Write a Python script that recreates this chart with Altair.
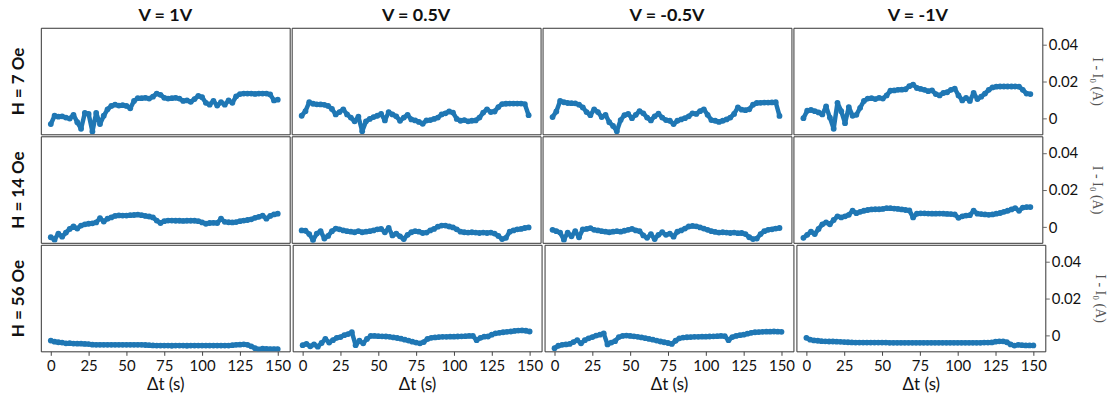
import altair as alt
import pandas as pd

# Sample times (s), shared by every panel
TIME = [0, 2.5, 5, 7.5, 10, 12.5, 15, 17.5, 20, 22.5,
        25, 27.5, 30, 32.5, 35, 37.5, 40, 42.5, 45, 47.5,
        50, 52.5, 55, 57.5, 60, 62.5, 65, 67.5, 70, 72.5,
        75, 77.5, 80, 82.5, 85, 87.5, 90, 92.5, 95, 97.5,
        100, 102.5, 105, 107.5, 110, 112.5, 115, 117.5, 120, 122.5,
        125, 127.5, 130, 132.5, 135, 137.5, 140, 142.5, 145, 147.5,
        150]

V_LABELS = ["V = 1V", "V = 0.5V", "V = -0.5V", "V = -1V"]
H_LABELS = ["H = 7 Oe", "H = 14 Oe", "H = 56 Oe"]

X_TICKS = [0, 25, 50, 75, 100, 125, 150]
Y_TICKS = [0, 0.02, 0.04]

# I - I0 (A) for each field / bias combination
H7_V1 = [-0.003, 0.0015, 0.001, 0.0012, 0.0005, 0.0, 0.002, -0.002, -0.0055, 0.003,
         0.0025, -0.007, 0.003, -0.003, 0.0015, 0.005, 0.0068, 0.0075, 0.007, 0.0072,
         0.0068, 0.0055, 0.0095, 0.011, 0.011, 0.0112, 0.0108, 0.0118, 0.0135, 0.0128,
         0.0112, 0.0108, 0.011, 0.0112, 0.0108, 0.0095, 0.0098, 0.009, 0.0105, 0.0122,
         0.0115, 0.0085, 0.0075, 0.0095, 0.007, 0.0088, 0.0075, 0.0098, 0.0085, 0.012,
         0.0132, 0.0135, 0.0135, 0.0135, 0.0133, 0.0135, 0.0135, 0.0135, 0.013, 0.0098,
         0.0102]
H7_V05 = [0.0015, 0.004, 0.0088, 0.008, 0.0077, 0.0076, 0.0074, 0.0068, 0.0052, 0.0022,
          0.0035, 0.005, 0.0022, 0.0005, -0.0015, 0.001, -0.0068, -0.0015, -0.0002, 0.0008,
          0.0015, 0.0025, -0.001, 0.0035, 0.0022, 0.0012, -0.0012, 0.0005, 0.002, -0.0005,
          -0.001, -0.0018, -0.0028, -0.001, -0.0008, -0.0002, 0.0005, 0.0022, 0.0028, 0.0038,
          0.0032, -0.0002, -0.0012, -0.0008, -0.0015, -0.0012, -0.001, 0.0005, 0.0032, 0.005,
          0.0035, 0.0038, 0.0062, 0.0078, 0.008, 0.0081, 0.0081, 0.0081, 0.0081, 0.0078,
          0.0018]
H7_VM05 = [0.0008, 0.0038, 0.0095, 0.0088, 0.0084, 0.0083, 0.0082, 0.0075, 0.006, 0.0035,
           0.0018, 0.005, 0.0035, 0.0008, 0.002, -0.002, -0.004, -0.0068, -0.0008, 0.0018,
           0.0025, 0.0002, 0.002, 0.004, 0.0028, 0.0005, -0.001, 0.0012, 0.0026, 0.0005,
           -0.0008, -0.0012, -0.003, -0.0012, -0.0005, 0.0002, 0.0012, 0.0028, 0.0025, 0.004,
           0.005, 0.002, -0.0008, -0.0012, -0.0018, -0.0012, -0.0005, 0.0005, 0.0025, 0.006,
           0.0048, 0.0045, 0.005, 0.0075, 0.0084, 0.0085, 0.0086, 0.0086, 0.0087, 0.0088,
           0.0014]
H7_VM1 = [0.0002, 0.0042, 0.0046, 0.004, 0.0033, 0.0022, 0.0065, 0.0005, -0.0055, 0.0085,
          0.004, -0.0025, 0.0062, 0.0015, 0.002, 0.0058, 0.0095, 0.0108, 0.011, 0.0105,
          0.0112, 0.0108, 0.0125, 0.015, 0.0152, 0.0155, 0.0156, 0.0158, 0.0175, 0.0183,
          0.0165, 0.016, 0.0155, 0.0148, 0.0152, 0.0132, 0.0125, 0.0138, 0.0142, 0.0155,
          0.0162, 0.0125, 0.0098, 0.0112, 0.0095, 0.0138, 0.0105, 0.0118, 0.0135, 0.0155,
          0.0168, 0.0172, 0.0173, 0.0173, 0.0173, 0.0173, 0.0173, 0.0172, 0.0155, 0.0135,
          0.0132]

H14_V1 = [-0.0055, -0.0068, -0.0035, -0.0052, -0.003, -0.001, 0.0003, -0.0008, 0.0008, 0.0015,
          0.0018, 0.002, 0.0025, 0.0048, 0.003, 0.0045, 0.0052, 0.006, 0.0063, 0.0062,
          0.0062, 0.0064, 0.0065, 0.0067, 0.0064, 0.006, 0.0057, 0.0052, 0.0035, 0.0022,
          0.0032, 0.0035, 0.0035, 0.0034, 0.0034, 0.0033, 0.0034, 0.0034, 0.0034, 0.0032,
          0.0025, 0.0018, 0.0022, 0.0023, 0.0022, 0.0045, 0.0028, 0.0026, 0.0025, 0.0027,
          0.0032, 0.0035, 0.0038, 0.0042, 0.005, 0.0055, 0.0062, 0.0045, 0.006, 0.0068,
          0.0072]
H14_V05 = [-0.0018, -0.002, -0.0038, -0.007, -0.0035, -0.0022, -0.0062, -0.0048, -0.0022, -0.0008,
           -0.0012, -0.0018, -0.0022, -0.0025, -0.0028, -0.0022, -0.0028, -0.0025, -0.0022, -0.0018,
           -0.0012, -0.001, -0.0028, -0.0005, -0.0045, -0.0035, -0.005, -0.0065, -0.0042, -0.0028,
           -0.0022, -0.0025, -0.0032, -0.003, -0.0018, -0.001, 0.0002, 0.0008, 0.0008, 0.0003,
           -0.0002, -0.0012, -0.0025, -0.0028, -0.003, -0.0028, -0.003, -0.0032, -0.003, -0.0032,
           -0.003, -0.0035, -0.0048, -0.0065, -0.0058, -0.0025, -0.0018, -0.0012, -0.001, -0.0005,
           -0.0002]
H14_VM05 = [-0.0015, -0.0022, -0.003, -0.0068, -0.003, -0.005, -0.0022, -0.0055, -0.0012, -0.001,
            -0.0006, -0.0015, -0.0018, -0.0022, -0.0025, -0.0028, -0.0025, -0.0022, -0.0025, -0.002,
            -0.0015, -0.001, -0.0018, -0.0022, -0.0045, -0.0058, -0.0038, -0.0065, -0.0042, -0.0028,
            -0.0042, -0.0035, -0.0052, -0.0025, -0.0018, -0.0008, 0.0003, 0.0006, 0.0004, -0.0002,
            -0.0008, -0.0015, -0.0022, -0.0026, -0.003, -0.0028, -0.003, -0.0032, -0.003, -0.0033,
            -0.0032, -0.0038, -0.0055, -0.0065, -0.0062, -0.0038, -0.0022, -0.0015, -0.0012, -0.0008,
            -0.0005]
H14_VM1 = [-0.0058, -0.0042, -0.0025, -0.0038, -0.001, 0.0015, 0.0025, 0.0015, 0.0038, 0.0058,
           0.0052, 0.0058, 0.0066, 0.0088, 0.0075, 0.0082, 0.0088, 0.0092, 0.0095, 0.0096,
           0.0096, 0.0098, 0.0102, 0.0102, 0.01, 0.0098, 0.0095, 0.0092, 0.009, 0.0052,
           0.0072, 0.0074, 0.0074, 0.0073, 0.0072, 0.0072, 0.0073, 0.0072, 0.0071, 0.007,
           0.0068, 0.005, 0.0058, 0.0062, 0.0064, 0.0088, 0.0072, 0.007, 0.0068, 0.0066,
           0.0068, 0.0072, 0.0076, 0.0082, 0.0088, 0.0095, 0.0102, 0.0088, 0.0105, 0.0108,
           0.0108]

H56_V1 = [-0.0027, -0.0033, -0.0036, -0.0038, -0.0042, -0.0041, -0.0043, -0.0044, -0.0044, -0.0045,
          -0.0046, -0.0049, -0.005, -0.005, -0.005, -0.005, -0.005, -0.005, -0.005, -0.005,
          -0.005, -0.005, -0.005, -0.005, -0.005, -0.0051, -0.0052, -0.0053, -0.0054, -0.0054,
          -0.0054, -0.0054, -0.0055, -0.0054, -0.0054, -0.0054, -0.0055, -0.0054, -0.0054, -0.0054,
          -0.0054, -0.0054, -0.0054, -0.0054, -0.0054, -0.0054, -0.0054, -0.0054, -0.0052, -0.005,
          -0.0049, -0.0047, -0.005, -0.0058, -0.0068, -0.0074, -0.0071, -0.0072, -0.0073, -0.0073,
          -0.0073]
H56_V05 = [-0.0052, -0.0045, -0.0058, -0.0048, -0.006, -0.004, -0.0018, -0.0038, -0.0025, -0.0012,
           -0.0008, 0.0002, 0.0008, 0.0018, -0.0052, -0.0028, -0.0042, -0.0018, -0.0002, -0.0002,
           -0.0003, -0.0004, -0.0005, -0.0007, -0.001, -0.0013, -0.0017, -0.0022, -0.0027, -0.0033,
           -0.0038, -0.0042, -0.0035, -0.0018, -0.0012, -0.001, -0.0008, -0.0007, -0.0007, -0.0006,
           -0.0006, -0.0005, -0.0004, -0.0003, -0.0002, -0.0002, -0.0025, -0.0012, -0.0006, -0.0005,
           0.0005, 0.0012, 0.0015, 0.0018, 0.002, 0.0022, 0.0025, 0.0027, 0.0028, 0.0026,
           0.0022]
H56_VM05 = [-0.0068, -0.0055, -0.005, -0.0048, -0.0045, -0.0035, -0.0025, -0.0042, -0.0025, -0.0015,
            -0.0008, 0.0, 0.0005, 0.0012, -0.0048, -0.0038, -0.003, -0.0008, -0.0002, 0.0,
            -0.0002, -0.0004, -0.0007, -0.001, -0.0014, -0.0018, -0.0022, -0.0027, -0.0032, -0.0036,
            -0.004, -0.0045, -0.0028, -0.0015, -0.0011, -0.0009, -0.0008, -0.0007, -0.0007, -0.0006,
            -0.0006, -0.0005, -0.0004, -0.0003, -0.0002, -0.0003, -0.0025, -0.0008, -0.0002, 0.0002,
            0.0005, 0.001, 0.0015, 0.0018, 0.0019, 0.002, 0.0021, 0.0021, 0.0022, 0.0021,
            0.002]
H56_VM1 = [-0.0012, -0.0022, -0.0026, -0.0028, -0.003, -0.0031, -0.0032, -0.0032, -0.0033, -0.0034,
           -0.0035, -0.0036, -0.0037, -0.0038, -0.0038, -0.0038, -0.0038, -0.0038, -0.0038, -0.0038,
           -0.0038, -0.0038, -0.0039, -0.0039, -0.0039, -0.0039, -0.0039, -0.0039, -0.0039, -0.0039,
           -0.0039, -0.0039, -0.0039, -0.0039, -0.0039, -0.0039, -0.0039, -0.0039, -0.0039, -0.0039,
           -0.0039, -0.0039, -0.0039, -0.0039, -0.0039, -0.0039, -0.0039, -0.0038, -0.0038, -0.0037,
           -0.0033, -0.0031, -0.0031, -0.0036, -0.0048, -0.0054, -0.005, -0.0052, -0.0053, -0.0053,
           -0.0053]

SERIES = [
    [H7_V1, H7_V05, H7_VM05, H7_VM1],
    [H14_V1, H14_V05, H14_VM05, H14_VM1],
    [H56_V1, H56_V05, H56_VM05, H56_VM1],
]

X_DOMAIN = [-6.6, 157.9]
Y_DOMAIN = [-0.0085, 0.049]
FONT = "Lato"
DOT = "#1f77b4"


def panel(values, r, c):
    df = pd.DataFrame({"t": TIME, "dI": values})

    if r == len(SERIES) - 1:
        x_axis = alt.Axis(values=X_TICKS, title="Δt (s)", domain=False, grid=False,
                          tickSize=4, tickColor="#444", labelFontSize=15,
                          labelFont=FONT, labelColor="#111", labelPadding=3,
                          titleFont=FONT, titleFontSize=17, titleFontWeight="normal",
                          titleColor="#111", titlePadding=3)
    else:
        x_axis = None

    if c == 0:
        y_axis = alt.Axis(title=H_LABELS[r], labels=False, ticks=False, domain=False,
                          grid=False, titleFont=FONT, titleFontSize=17,
                          titleFontWeight="bold", titleColor="#111", titlePadding=13)
    elif c == 3:
        y_axis = alt.Axis(orient="right", values=Y_TICKS,
                          labelExpr="datum.value == 0 ? '0' : format(datum.value, '.2f')",
                          domain=False, grid=False, tickSize=4, tickColor="#666",
                          labelFont=FONT, labelFontSize=15, labelColor="#111",
                          labelPadding=2, title="I - I₀ (A)",
                          titleFont="Liberation Serif", titleFontSize=14,
                          titleFontWeight="normal", titleColor="#555", titlePadding=12)
    else:
        y_axis = None

    x_enc = alt.X("t:Q", scale=alt.Scale(domain=X_DOMAIN, nice=False, zero=False), axis=x_axis)
    y_enc = alt.Y("dI:Q", scale=alt.Scale(domain=Y_DOMAIN, nice=False, zero=False), axis=y_axis)

    base = alt.Chart(df).encode(x=x_enc, y=y_enc)
    # a thick trace keeps the dense sampling looking continuous
    trace = base.mark_line(color=DOT, strokeWidth=4.5, strokeJoin="round",
                           strokeCap="round", clip=True)
    dots = base.mark_circle(size=34, color=DOT, opacity=1, clip=True)
    ch = alt.layer(trace, dots).properties(width=250, height=107)

    if r == 0:
        ch = ch.properties(title=alt.TitleParams(V_LABELS[c], font=FONT, fontSize=18,
                                                 fontWeight="bold", color="#111",
                                                 anchor="middle", offset=3))
    return ch


rows = [alt.hconcat(*[panel(SERIES[r][c], r, c) for c in range(4)], spacing=0)
        for r in range(3)]

chart = alt.vconcat(*rows, spacing=0).properties(
    padding={"left": 9, "top": 5, "right": 5, "bottom": 5}
).configure_view(stroke="#333", strokeWidth=1)

chart.save("out.html", embed_options={"renderer": "svg", "actions": False})
